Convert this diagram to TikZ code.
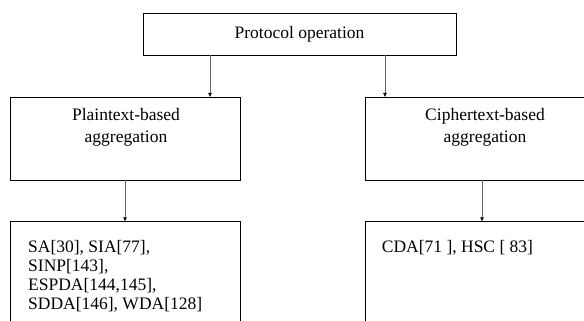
\documentclass[tikz,border=0pt]{standalone}
\usepackage{fontspec}
\setmainfont{Liberation Serif}
\usetikzlibrary{arrows.meta}
\begin{document}
\begin{tikzpicture}[x=1pt,y=-1pt,
  box/.style={draw=black,line width=0.9pt,rectangle,inner sep=0pt},
  conn/.style={draw=black!60,line width=0.6pt,-{Triangle[length=4pt,width=3.5pt,fill=black,color=black]}},
  lbl/.style={inner sep=0pt,font=\fontsize{17.5}{22}\selectfont,align=center},
  lst/.style={inner sep=0pt,font=\fontsize{17.5}{19}\selectfont,align=left,anchor=north west}]
\useasboundingbox (0,0) rectangle (584,321);
\fill[white] (0,0) rectangle (584,321);
\node[box,minimum width=313pt,minimum height=41.5pt] (top) at (299.5,34.25) {};
\node[box,minimum width=229.6pt,minimum height=82.7pt] (lmid) at (125.5,138.65) {};
\node[box,minimum width=234pt,minimum height=82.7pt] (rmid) at (482,138.65) {};
\node[box,minimum width=229.6pt,minimum height=118.3pt] (lbot) at (125.5,280.85) {};
\node[box,minimum width=234pt,minimum height=118.3pt] (rbot) at (482,280.85) {};
\node[lbl] (ttop) at (299.5,34) {Protocol operation};
\node[lbl] (tlmid) at (126,127.5) {Plaintext-based\\aggregation};
\node[lbl] (trmid) at (485,127.5) {Ciphertext-based\\aggregation};
\node[lst] (tlbot) at (28,240) {SA[30], SIA[77],\\SINP[143],\\ESPDA[144,145],\\SDDA[146], WDA[128]};
\node[lst] (trbot) at (381.7,240) {CDA[71 ], HSC [ 83]};
\coordinate (a1) at (210,0);
\coordinate (a2) at (385,0);
\coordinate (a3) at (125,0);
\coordinate (a4) at (482,0);
\draw[conn] (top.south -| a1) -- (lmid.north -| a1);
\draw[conn] (top.south -| a2) -- (rmid.north -| a2);
\draw[conn] (lmid.south -| a3) -- (lbot.north -| a3);
\draw[conn] (rmid.south -| a4) -- (rbot.north -| a4);
\end{tikzpicture}
\end{document}
